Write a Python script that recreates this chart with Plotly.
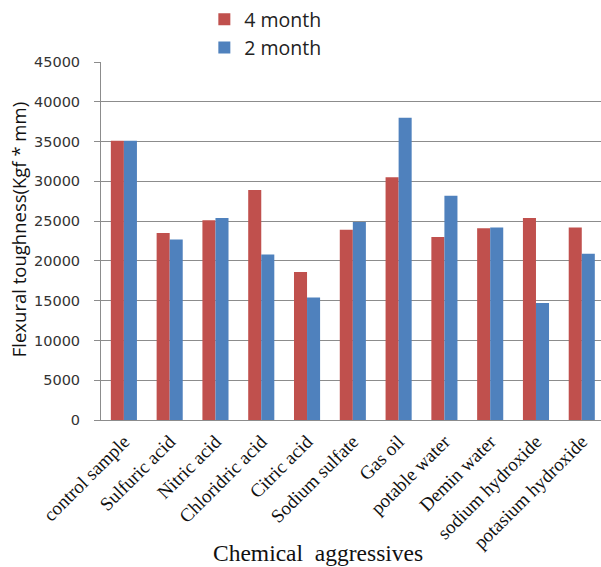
import plotly.graph_objects as go

# Data
categories = ['control sample', 'Sulfuric acid', 'Nitric acid', 'Chloridric acid', 'Citric acid',
              'Sodium sulfate', 'Gas oil', 'potable water', 'Demin water', 'sodium hydroxide',
              'potasium hydroxide']
month4 = [35100, 23500, 25100, 28900, 18600, 23900, 30500, 23000, 24100, 25400, 24200]
month2 = [35100, 22700, 25400, 20800, 15400, 24900, 38000, 28200, 24200, 14700, 20900]
y_ticks = [0, 5000, 10000, 15000, 20000, 25000, 30000, 35000, 40000, 45000]

fig = go.Figure()
fig.add_trace(go.Bar(x=categories, y=month4, name='4 month', marker_color='#C0504D',
                     marker_line_width=0))
fig.add_trace(go.Bar(x=categories, y=month2, name='2 month', marker_color='#4F81BD',
                     marker_line_width=0))

fig.update_layout(
    width=601, height=567,
    margin=dict(l=101, r=0, t=62, b=147, autoexpand=False),
    plot_bgcolor='white', paper_bgcolor='white',
    barmode='group', bargap=0.43, bargroupgap=0,
    font=dict(family='Liberation Sans, Arial', color='#222'),
    legend=dict(x=0.34, y=1, xanchor='left', yanchor='top', xref='container', yref='container',
                orientation='v', font=dict(size=19.5, family='Open Sans, Liberation Sans'),
                tracegroupgap=0, itemwidth=30),
    showlegend=True,
)
fig.update_yaxes(range=[0, 45000], tickvals=y_ticks, ticktext=[str(v) for v in y_ticks],
                 showgrid=True, gridcolor='#8c8c8c', gridwidth=1, showline=True,
                 linecolor='#8c8c8c', ticks='outside', ticklen=6, tickcolor='#8c8c8c',
                 tickfont=dict(size=14.5, family='DejaVu Sans', color='#333'),
                 ticklabelstandoff=11, zeroline=False)
fig.update_xaxes(range=[-0.5, 10.42], tickangle=-45, showline=True, linecolor='#8c8c8c',
                 ticks='', ticklabelstandoff=2,
                 tickfont=dict(size=19, family='Liberation Serif, Times New Roman',
                               color='#111'))

fig.add_annotation(text='Flexural toughness(Kgf * mm)', xref='paper', yref='paper',
                   x=-0.166, y=0.53, xanchor='center', yanchor='middle', textangle=-90,
                   showarrow=False,
                   font=dict(size=18.5, family='Open Sans, Liberation Sans', color='#111'))
fig.add_annotation(text='Chemical  aggressives', xref='paper', yref='paper',
                   x=0.434, y=-0.3715, xanchor='center', yanchor='middle', showarrow=False,
                   font=dict(size=23.5, family='Liberation Serif, Times New Roman', color='#111'))

fig.write_html("out.html", config={'displayModeBar': False},
               post_script="document.body.style.margin='0';")
